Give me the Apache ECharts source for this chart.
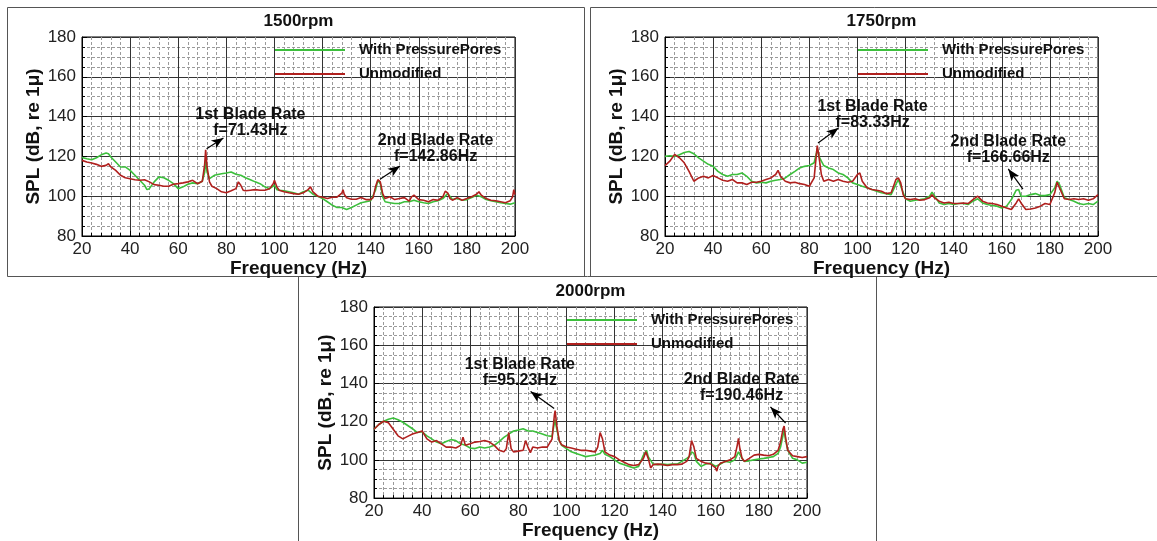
<!DOCTYPE html>
<html>
<head>
<meta charset="utf-8">
<script src="https://cdn.jsdelivr.net/npm/echarts@6/dist/echarts.min.js"></script>
<style>
  html, body { margin: 0; padding: 0; background: #fff; }
  #chart { width: 1157px; height: 541px; }
</style>
</head>
<body>
<div id="chart"></div>
<script>
(function () {
  'use strict';

  // SPL spectra, [frequency (Hz), SPL (dB)]
  var p1500Pores = [[20,119.5],[22,118.8],[24,118.3],[26,119.3],[28,120.8],[30,121.7],[31,121.3],[32,119.7],[34,117.2],[36,114.7],[38,114.7],[40,113],[42,110.5],[44,108],[46,105.5],[47,103.3],[48,103.8],[50,107.2],[52,109.7],[54,109.3],[56,108],[58,106.3],[60,103.8],[62,104.7],[64,106],[66,106.7],[68,106.3],[70,107.5],[71,112],[71.4,118],[72,112],[73,108.8],[75,110.5],[78,111.3],[80,111.7],[82,112.2],[84,111],[86,110.5],[88,109.3],[90,108.3],[92,107.2],[94,106.3],[96,104.7],[98,103.8],[100,105.5],[101,103.3],[102,103],[104,102.7],[106,102.2],[108,101.7],[110,101],[112,102.2],[114,103],[116,101],[118,100],[120,98.8],[122,97.2],[124,95.5],[126,94.3],[128,94.3],[130,93.3],[132,94.3],[134,95.5],[136,96.7],[138,97.2],[140,97.7],[142,103],[143,108],[144,106.3],[145,99.7],[146,97.2],[148,96.7],[150,96.3],[152,96.3],[154,97.2],[156,97.2],[158,98],[160,97.2],[162,96.7],[164,96.3],[166,97.2],[168,97.7],[170,98.8],[172,101.3],[174,98.3],[176,98.8],[178,98],[180,98.3],[182,99.3],[184,100.5],[186,99.7],[188,98.3],[190,97.7],[192,97.2],[194,96.7],[196,96.3],[198,96],[200,96.7]];
  var p1500Base = [[20,118],[22,117.2],[24,116.7],[26,116],[28,115],[30,115.5],[31,116.3],[32,114.7],[34,113],[36,110.5],[38,109.3],[40,108.8],[42,108.3],[44,108],[46,108.3],[48,107.2],[50,105.8],[52,105.5],[54,105],[56,105],[58,106],[60,106.3],[62,106.7],[64,107.2],[66,108],[68,106.3],[70,107.5],[71,116],[71.4,123.3],[72,114.7],[73,107.2],[74,105],[76,103.8],[78,102.2],[80,101.7],[82,102.7],[84,103.8],[85,107.2],[86,105.5],[87,103],[88,102.7],[90,103],[92,103.3],[94,103],[96,103],[98,103.8],[99.5,106.3],[100,108],[101,104.7],[102,103],[104,102.2],[106,101.7],[108,101.3],[110,101],[112,101.7],[114,103.3],[115,104.7],[116,102.2],[118,100],[120,99.5],[122,98.8],[124,99.5],[126,99.5],[128,101.5],[128.5,103.3],[129,101],[130,99.2],[132,98.5],[134,98.5],[136,99.3],[138,98.3],[140,98.3],[141,99.3],[142,104.7],[143,108.3],[144,107.2],[145,101.3],[146,98.8],[148,99.7],[150,98.3],[152,98.8],[154,99.3],[156,97.5],[157,99.7],[158,100.5],[160,98.3],[162,98],[164,97.2],[166,98.3],[168,98],[170,99.7],[171,102.5],[172,101.7],[173,98.8],[174,98],[176,99.3],[178,98],[180,98.8],[182,99.7],[184,101],[185,102.2],[186,100.5],[188,98.8],[190,98],[192,97.7],[194,97.2],[196,96.7],[198,97.7],[199,99.7],[199.5,103.3],[200,100.8]];

  var p1750Pores = [[20,120],[22,120.3],[24,120],[26,120.8],[28,122],[30,122.5],[32,121.3],[34,119.3],[36,117.6],[38,116],[40,115],[42,112.5],[44,110.9],[46,110],[48,110.9],[50,110.9],[52,111.7],[54,110],[56,107.5],[58,106.7],[60,107],[62,106.7],[64,107.5],[66,108],[68,108.4],[70,109.2],[72,110.9],[74,112.5],[76,114.2],[78,115],[80,115.4],[82,116.8],[83,122],[83.3,124],[84,120],[85,117.6],[86,115.4],[88,114.2],[90,113.4],[92,111.7],[94,110.9],[96,109.2],[98,106.7],[100,105.9],[102,105],[104,104.2],[106,103.4],[108,102.5],[110,101.7],[112,101.3],[114,100.8],[116,105.9],[117,108.4],[118,105],[120,98.7],[122,97.5],[124,98],[126,98.3],[128,98.7],[130,100],[131,102],[132,100.3],[134,96.6],[136,95.8],[138,96.3],[140,95.8],[142,96.3],[144,96.3],[146,95.8],[148,97.5],[150,98.7],[152,96.6],[154,95.8],[156,95.3],[158,95],[160,94.1],[162,95],[164,98.3],[166,103],[167,103.4],[168,100],[170,100],[172,100.8],[174,101.3],[176,100.3],[178,100.3],[180,100.8],[182,104.2],[183,107.5],[184,105.9],[186,99.2],[188,98.3],[190,97.5],[192,96.3],[194,95.8],[196,96.3],[198,95.8],[200,97.5]];
  var p1750Base = [[20,115.4],[22,117.6],[24,121],[26,119.3],[28,116.8],[30,112.5],[32,107.5],[34,109.2],[36,110],[38,109.2],[40,110.4],[42,109.2],[44,108],[46,107.5],[48,108.4],[50,106.7],[52,106.7],[54,105.9],[56,107],[58,107],[60,107.5],[62,108.4],[64,109.2],[66,110.9],[67,113],[68,110],[70,107.5],[72,106.7],[74,107],[76,106.3],[78,105.9],[80,105],[82,109.2],[83,121.8],[83.3,125.4],[84,120],[85,110.9],[86,107.5],[88,108.4],[90,107.5],[92,108.4],[94,107.5],[96,107],[98,107.5],[100,110.9],[101,111.7],[102,107.5],[104,104.2],[106,103.4],[108,103],[110,102.5],[112,101.3],[114,101.7],[115,105],[116,108.4],[117,109.2],[118,106.7],[119,100.8],[120,98.7],[122,98.3],[124,98.7],[126,98],[128,98.3],[130,99.2],[131,100.8],[132,99.2],[134,97.5],[136,96.6],[138,97],[140,96.3],[142,96.3],[144,96.6],[146,96.3],[148,98.3],[150,100],[152,97.5],[154,96.6],[156,96.3],[158,95.8],[160,95],[162,94.1],[164,93.3],[166,96.6],[167,98.7],[168,96.6],[170,93.3],[172,93.6],[174,94.1],[176,95],[178,96.3],[180,95.8],[182,101.7],[183,107],[184,104.2],[186,98.7],[188,98.3],[190,98.7],[192,98.3],[194,98.7],[196,98],[198,98.7],[200,100.8]];

  var p2000Pores = [[20,116],[22,118.5],[24,120.2],[26,121.3],[28,121.9],[30,121],[32,119.7],[34,118],[36,116.3],[38,114.3],[40,114.7],[42,112.6],[44,111],[46,109.3],[48,108.4],[50,109.6],[52,110.6],[54,110.1],[56,108.4],[58,107.6],[60,106.2],[62,105.9],[64,106.7],[66,106.2],[68,106.7],[70,107.6],[72,109.6],[74,111.8],[76,113.5],[78,115.1],[80,115.6],[82,116.3],[84,115.1],[86,115.1],[88,114.3],[90,113.5],[92,112.6],[94,112.3],[95.2,121],[96,116],[97,110.1],[98,107.6],[100,105.9],[102,104.2],[104,103.4],[106,102.5],[108,101.7],[110,102.2],[112,102.5],[114,103.4],[115,105],[116,102.9],[118,101.7],[120,100],[122,98.3],[124,97.5],[126,96.6],[128,95.8],[130,96.6],[132,102.5],[133.3,105],[134,101.7],[136,97.8],[138,97.5],[140,97.8],[142,97.5],[144,97.8],[146,97.8],[148,99.2],[150,100.8],[151,101.7],[152,104.2],[153,103.4],[154,99.2],[156,96.6],[158,97.8],[160,98.3],[162,96.6],[164,97.8],[166,99.2],[168,98.8],[170,100],[171.5,104.2],[173,100.8],[174,99.2],[176,99.5],[178,100],[180,100.5],[182,100.8],[184,101.2],[186,101.7],[188,103.4],[189,106.7],[190,112.6],[190.5,116],[191,110.9],[192,105],[194,100.8],[196,100],[198,98.3],[200,98.8]];
  var p2000Base = [[20,116],[22,118.5],[24,120.2],[26,119.4],[28,116],[30,112.6],[32,111],[34,112.3],[36,113.5],[38,114.3],[40,115.1],[42,111],[44,109.3],[46,110.1],[48,108.4],[50,106.7],[52,106.7],[54,106.2],[56,107.6],[57,111.8],[58,107.6],[60,108.4],[62,109.3],[64,109.6],[66,110.1],[68,109.3],[70,107.6],[72,105],[74,104.2],[75,105.9],[76,114.3],[76.5,115.1],[77,105.9],[78,104.2],[80,104.6],[82,105],[83,110.1],[84,106.7],[85,103.8],[86,106.7],[88,106.2],[90,106.7],[92,106.7],[94,110.9],[95,123.6],[95.3,125.8],[96,117.7],[97,110.1],[98,107.9],[100,106.7],[102,106.2],[104,105.6],[106,105],[108,105],[110,104.6],[112,104.2],[113,106.7],[114,114.3],[114.5,115.1],[115,110.9],[116,104.2],[118,102.5],[120,101.7],[122,100],[124,98.8],[126,97.5],[128,97.1],[130,97.5],[132,100.8],[133,104.2],[134,100.8],[135,95.8],[136,97.5],[138,97.8],[140,97.5],[142,97.1],[144,97.5],[146,97.5],[148,97.8],[150,99.2],[151,101.7],[152,110.1],[152.5,111],[153,106.7],[154,100.8],[156,99.2],[158,98.3],[160,97.8],[162,95.8],[162.5,94.1],[163,96.6],[164,98.3],[166,99.2],[168,100],[170,101.7],[171,107.6],[171.5,111.3],[172,106.7],[173,100.8],[174,99.2],[176,100.8],[178,102.5],[180,102.9],[182,102.5],[184,102.2],[186,102.9],[188,105],[189,109.3],[190,116],[190.5,117.7],[191,112.6],[192,105],[194,102.2],[196,101.7],[198,101.2],[200,101.7]];

  var seriesNames = ['With PressurePores', 'Unmodified'];
  var panelTitles = ['1500rpm', '1750rpm', '2000rpm'];

  // blade-rate notes: label text, label centre, arrow tail (peak) and head, in data units
  var noteTexts = [
    ['1st Blade Rate\nf=71.43Hz', '2nd Blade Rate\nf=142.86Hz'],
    ['1st Blade Rate\nf=83.33Hz', '2nd Blade Rate\nf=166.66Hz'],
    ['1st Blade Rate\nf=95.23Hz', '2nd Blade Rate\nf=190.46Hz']
  ];
  var noteAt = [[[90, 137], [167, 124]], [[106.3, 140.8], [162.7, 123.3]], [[80.6, 145.6], [172.8, 137.6]]];
  var arrowFrom = [[[71.8, 123.8], [143.9, 108.5]], [[83.6, 126.7], [168.8, 103.6]], [[94.9, 126.9], [191.1, 119.3]]];
  var arrowTo = [[[78.8, 129.3], [152.2, 115.2]], [[92.1, 134.3], [162.7, 113.7]], [[85.1, 135.8], [184.8, 127.7]]];

  var spectra = [[p1500Pores, p1500Base], [p1750Pores, p1750Base], [p2000Pores, p2000Base]];

  var FONT = '"Liberation Sans", Arial, Helvetica, sans-serif';
  var GREEN = '#3cbf3c';
  var RED = '#b0201e';
  var layout = [
    {left: 82, top: 37, frame: [7.5, 7.5, 577, 269]},
    {left: 665, top: 37, frame: [590.5, 7.5, 580, 269]},
    {left: 374, top: 307, frame: [298.5, 276.5, 578, 280]}
  ];
  var W = 433, H = 199;

  var grids = [], xAxes = [], yAxes = [], series = [], titles = [], legends = [], frames = [];

  layout.forEach(function (p, i) {
    grids.push({left: p.left, top: p.top, width: W, height: H, show: true,
      borderColor: '#000', borderWidth: 1, backgroundColor: 'transparent'});

    xAxes.push({
      type: 'value', gridIndex: i, min: 20, max: 200, interval: 20,
      name: 'Frequency (Hz)', nameLocation: 'middle', nameGap: 19,
      nameTextStyle: {fontFamily: FONT, fontSize: 19, fontWeight: 'bold', color: '#111'},
      axisLine: {lineStyle: {color: '#000'}},
      axisTick: {inside: true, length: 5, lineStyle: {color: '#000'}},
      minorTick: {show: true, splitNumber: 5, length: 3, lineStyle: {color: '#000'}},
      axisLabel: {fontFamily: FONT, fontSize: 17, color: '#222', margin: 5},
      splitLine: {show: true, lineStyle: {color: '#333', width: 1}},
      minorSplitLine: {show: true, lineStyle: {color: '#9a9a9a', width: 1, type: [3, 2]}}
    });
    yAxes.push({
      type: 'value', gridIndex: i, min: 80, max: 180, interval: 20,
      name: 'SPL (dB, re 1\u03bc)', nameLocation: 'middle', nameGap: 37, nameRotate: 90,
      nameTextStyle: {fontFamily: FONT, fontSize: 19, fontWeight: 'bold', color: '#111'},
      axisLine: {show: true, lineStyle: {color: '#000'}},
      axisTick: {inside: true, length: 5, lineStyle: {color: '#000'}},
      minorTick: {show: true, splitNumber: 4, length: 3, lineStyle: {color: '#000'}},
      axisLabel: {fontFamily: FONT, fontSize: 17, color: '#222', margin: 6},
      splitLine: {show: true, lineStyle: {color: '#333', width: 1}},
      minorSplitLine: {show: true, lineStyle: {color: '#9a9a9a', width: 1, type: [3, 2]}}
    });

    titles.push({
      text: panelTitles[i], left: p.left + W / 2, top: p.top - 24, textAlign: 'center', padding: 0,
      textStyle: {fontFamily: FONT, fontSize: 17, fontWeight: 'bold', color: '#111'}
    });

    legends.push({
      data: seriesNames, orient: 'vertical', left: p.left + 193, top: p.top + 5, padding: 0,
      itemWidth: 70, itemHeight: 2, itemGap: 8, icon: 'rect', selectedMode: false,
      textStyle: {fontFamily: FONT, fontSize: 15, fontWeight: 'bold', color: '#111',
        lineHeight: 16, padding: [0, 0, 0, 9]}
    });

    frames.push({type: 'rect', silent: true, z: -1,
      shape: {x: p.frame[0], y: p.frame[1], width: p.frame[2], height: p.frame[3]},
      style: {fill: 'none', stroke: '#555', lineWidth: 1}});

    var marks = noteTexts[i].map(function (t, k) {
      return {coord: noteAt[i][k], value: t, label: {formatter: t}};
    });
    var arrows = noteTexts[i].map(function (t, k) {
      return [{coord: arrowFrom[i][k]}, {coord: arrowTo[i][k]}];
    });

    series.push({
      name: seriesNames[0], type: 'line', xAxisIndex: i, yAxisIndex: i,
      data: spectra[i][0], showSymbol: false, color: GREEN,
      lineStyle: {width: 1.6, color: GREEN}
    });
    series.push({
      name: seriesNames[1], type: 'line', xAxisIndex: i, yAxisIndex: i,
      data: spectra[i][1], showSymbol: false, color: RED,
      lineStyle: {width: 1.6, color: RED},
      markLine: {
        silent: true, symbol: ['none', 'arrow'], symbolSize: [7, 12],
        lineStyle: {color: '#000', width: 1.2, type: 'solid'},
        label: {show: false}, emphasis: {disabled: true},
        data: arrows
      },
      markPoint: {
        silent: true, symbol: 'rect', symbolSize: 1,
        itemStyle: {color: 'transparent'},
        label: {show: true, position: 'inside', fontFamily: FONT, fontSize: 16,
          fontWeight: 'bold', color: '#111', lineHeight: 16, align: 'center'},
        data: marks
      }
    });
  });

  var chart = echarts.init(document.getElementById('chart'), null, {renderer: 'canvas'});
  chart.setOption({
    animation: false,
    backgroundColor: '#fff',
    title: titles,
    legend: legends,
    grid: grids,
    xAxis: xAxes,
    yAxis: yAxes,
    series: series,
    graphic: frames
  });
})();
</script>
</body>
</html>
